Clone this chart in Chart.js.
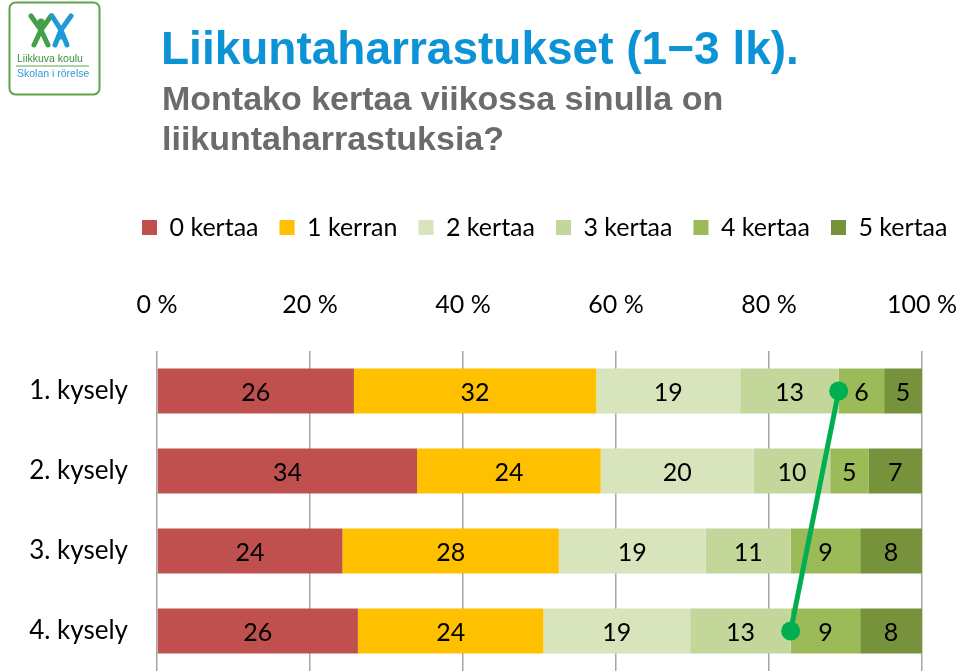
<!DOCTYPE html>
<html>
<head>
<meta charset="utf-8">
<script src="https://cdn.jsdelivr.net/npm/chart.js@4.4.0/dist/chart.umd.min.js"></script>
<style>
    html, body { margin: 0; padding: 0; background: #fff; }
    body { width: 960px; height: 671px; position: relative; overflow: hidden; }
    #chartCanvas { position: absolute; left: 0; top: 0; }
    #logo { position: absolute; left: 0; top: 0; }
    .title { position: absolute; white-space: nowrap; font-family: 'Liberation Sans', Arial, sans-serif; font-weight: bold; }
    #mainTitle { left: 161px; top: 25px; font-size: 46px; line-height: 46px; color: #0b93d5; }
    #subTitle { left: 162px; top: 78px; font-size: 34px; line-height: 40px; color: #6b6b6b; }
</style>
</head>
<body>
<canvas id="chartCanvas" width="1000" height="671"></canvas>

<svg id="logo" width="110" height="100" viewBox="0 0 110 100">
    <rect x="9.5" y="2.5" width="90" height="92" rx="6" fill="#fff" stroke="#5fa34c" stroke-width="2"/>
    <g fill="none" stroke-linecap="round" stroke-width="5">
        <path d="M31 16 L41 30 L34 45 M51 16 L41 30 L48 45" stroke="#43a047"/>
        <path d="M52 16 L61 30 L55 45 M71 16 L61 30 L67 45" stroke="#1e9ad6"/>
    </g>
    <circle cx="41" cy="22" r="3.5" fill="#43a047"/>
    <circle cx="61" cy="36" r="3.5" fill="#1e9ad6"/>
    <text x="17" y="62" font-family="Liberation Sans, Arial" font-size="10.5" fill="#3d8f3a">Liikkuva koulu</text>
    <line x1="16" y1="66" x2="89" y2="66" stroke="#5fa34c" stroke-width="1"/>
    <text x="17" y="77" font-family="Liberation Sans, Arial" font-size="10.5" fill="#2f9bd6">Skolan i rörelse</text>
</svg>

<div class="title" id="mainTitle">Liikuntaharrastukset (1−3 lk).</div>
<div class="title" id="subTitle">Montako kertaa viikossa sinulla on<br>liikuntaharrastuksia?</div>

<script>
// Survey rounds
const categories = ['1. kysely', '2. kysely', '3. kysely', '4. kysely'];

// Answers per round (as printed on the bars)
const seriesNames = ['0 kertaa', '1 kerran', '2 kertaa', '3 kertaa', '4 kertaa', '5 kertaa'];
const kertaa0 = [26, 34, 24, 26];
const kerran1 = [32, 24, 28, 24];
const kertaa2 = [19, 20, 19, 19];
const kertaa3 = [13, 10, 11, 13];
const kertaa4 = [6, 5, 9, 9];
const kertaa5 = [5, 7, 8, 8];
const seriesValues = [kertaa0, kerran1, kertaa2, kertaa3, kertaa4, kertaa5];
const seriesColors = ['#c0504d', '#ffc000', '#d8e4bc', '#c4d79b', '#9bbb59', '#76933c'];

const xTicks = [0, 20, 40, 60, 80, 100];

// green marker joins the "3 kertaa" end in first and last round
const markerSeries = 3;
const markerRows = [0, 3];

// each row is drawn as 100 %
const rowTotals = categories.map((c, j) => seriesValues.reduce((s, arr) => s + arr[j], 0));

const FONT = 'Lato, "Open Sans", sans-serif';
Chart.defaults.font.family = FONT;
Chart.defaults.color = '#000';

// move the legend so it starts above the labels column like in the slide
const legendShift = {
    id: 'legendShift',
    afterLayout(chart) {
        chart.legend.left = 121;
    }
};

const barLabels = {
    id: 'barLabels',
    afterDatasetsDraw(chart) {
        const ctx = chart.ctx;
        ctx.save();
        ctx.font = '25px ' + FONT;
        ctx.fillStyle = '#000';
        ctx.textAlign = 'center';
        ctx.textBaseline = 'middle';
        chart.data.datasets.forEach((ds, i) => {
            chart.getDatasetMeta(i).data.forEach((bar, j) => {
                const c = bar.getCenterPoint();
                ctx.fillText(ds.raw[j], c.x, c.y + 2);
            });
        });
        ctx.restore();
    }
};

const trendLine = {
    id: 'trendLine',
    afterDatasetsDraw(chart) {
        const ctx = chart.ctx;
        const meta = chart.getDatasetMeta(markerSeries);
        const pts = markerRows.map(r => ({ x: meta.data[r].x, y: meta.data[r].y }));
        ctx.save();
        ctx.strokeStyle = '#00b050';
        ctx.fillStyle = '#00b050';
        ctx.lineWidth = 5;
        ctx.lineCap = 'round';
        ctx.beginPath();
        ctx.moveTo(pts[0].x, pts[0].y);
        ctx.lineTo(pts[1].x, pts[1].y);
        ctx.stroke();
        pts.forEach(p => {
            ctx.beginPath();
            ctx.arc(p.x, p.y, 9.5, 0, Math.PI * 2);
            ctx.fill();
        });
        ctx.restore();
    }
};

const ctx = document.getElementById('chartCanvas').getContext('2d');
const chart = new Chart(ctx, {
    type: 'bar',
    data: {
        labels: categories,
        datasets: seriesNames.map((name, i) => ({
            label: name,
            data: seriesValues[i].map((v, j) => v / rowTotals[j] * 100),
            raw: seriesValues[i],
            backgroundColor: seriesColors[i],
            borderWidth: 0,
            barPercentage: 0.5625,
            categoryPercentage: 1
        }))
    },
    options: {
        indexAxis: 'y',
        responsive: false,
        animation: false,
        layout: {
            padding: { left: 0, right: 0, top: 194, bottom: 0 }
        },
        scales: {
            x: {
                position: 'top',
                stacked: true,
                min: 0,
                max: 100,
                afterBuildTicks: (axis) => { axis.ticks = xTicks.map(v => ({ value: v })); },
                afterFit: (axis) => {
                    axis.height = 101;
                    axis.paddingLeft = 0;
                    axis.paddingRight = 78;
                },
                ticks: {
                    padding: 31,
                    color: '#000',
                    font: { size: 25 },
                    callback: (v) => v + ' %'
                },
                grid: { color: '#a5a5a5', lineWidth: 1.5, drawTicks: false },
                border: { display: false }
            },
            y: {
                stacked: true,
                afterFit: (axis) => {
                    axis.width = 157;
                    axis.paddingTop = 0;
                    axis.paddingBottom = 0;
                },
                ticks: { padding: 29, color: '#000', font: { size: 26 } },
                grid: { display: false, drawTicks: false },
                border: { display: false }
            }
        },
        plugins: {
            legend: {
                position: 'top',
                align: 'start',
                labels: {
                    boxWidth: 15,
                    boxHeight: 15,
                    padding: 21,
                    color: '#000',
                    font: { size: 25 }
                }
            },
            tooltip: { enabled: false }
        }
    },
    plugins: [legendShift, barLabels, trendLine]
});
</script>
</body>
</html>
